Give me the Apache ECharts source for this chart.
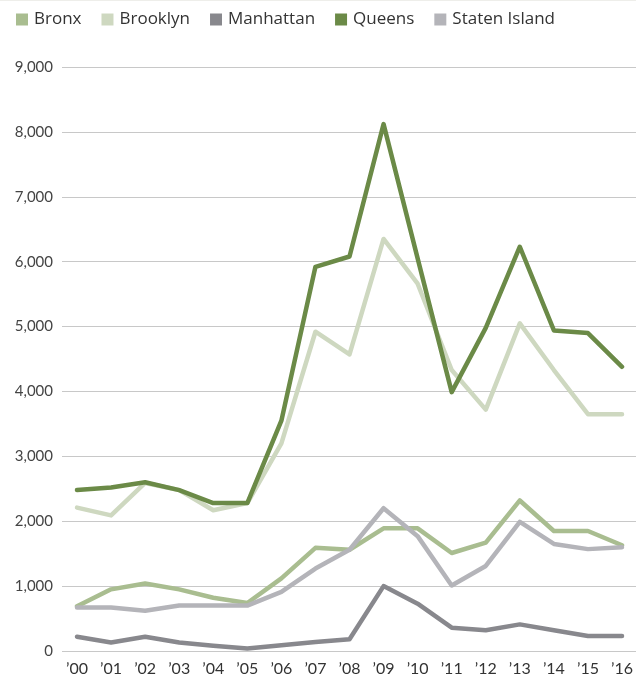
<!DOCTYPE html>
<html>
<head>
<meta charset="utf-8">
<script src="https://cdn.jsdelivr.net/npm/echarts@6/dist/echarts.min.js"></script>
<style>
  html, body { margin: 0; padding: 0; background: #fff; }
  #chart { width: 636px; height: 678px; }
</style>
</head>
<body>
<div id="chart"></div>
<script>
// Years shown along the bottom axis
const years = ["’00", "’01", "’02", "’03", "’04", "’05", "’06", "’07", "’08",
               "’09", "’10", "’11", "’12", "’13", "’14", "’15", "’16"];

// Values per borough, 2000–2016
const bronx        = [690, 950, 1040, 950, 820, 740, 1120, 1590, 1560, 1890, 1890, 1510, 1670, 2320, 1850, 1850, 1630];
const brooklyn     = [2210, 2090, 2590, 2480, 2170, 2280, 3200, 4920, 4570, 6350, 5660, 4330, 3720, 5050, 4330, 3650, 3650];
const manhattan    = [220, 130, 220, 130, 80, 40, 90, 140, 180, 1000, 730, 360, 320, 410, 320, 230, 230];
const queens       = [2480, 2520, 2600, 2480, 2280, 2280, 3550, 5920, 6080, 8120, 6050, 3990, 4980, 6230, 4940, 4900, 4380];
const statenIsland = [670, 670, 620, 700, 700, 700, 910, 1270, 1560, 2200, 1770, 1010, 1310, 1990, 1650, 1570, 1600];

const yTicks = [0, 1000, 2000, 3000, 4000, 5000, 6000, 7000, 8000, 9000];

const seriesDefs = [
  { name: "Bronx",         data: bronx,        color: "#a9bd90" },
  { name: "Brooklyn",      data: brooklyn,     color: "#ced8c0" },
  { name: "Manhattan",     data: manhattan,    color: "#88888d" },
  { name: "Queens",        data: queens,       color: "#6b8a47" },
  { name: "Staten Island", data: statenIsland, color: "#b4b4b9" }
];

const AXIS_FONT = "Lato";
const LEGEND_FONT = "Open Sans";
const chart = echarts.init(document.getElementById("chart"), null, { renderer: "canvas" });

const yMin = yTicks[0], yMax = yTicks[yTicks.length - 1];

chart.setOption({
  animation: false,
  textStyle: { fontFamily: AXIS_FONT },
  graphic: [{
    type: "rect", shape: { x: 0, y: 0, width: 636, height: 1 },
    style: { fill: "#eeeeea" }, silent: true
  }],
  legend: {
    left: 11, top: 6,
    itemWidth: 12, itemHeight: 12, itemGap: 20,
    icon: "rect",
    textStyle: { fontFamily: LEGEND_FONT, fontSize: 17, color: "#333", padding: [0, 0, 0, 1] },
    data: seriesDefs.map(s => s.name)
  },
  grid: [
    // background grid carrying the value gridlines across the full width
    { left: 62, right: 0, top: 67, bottom: 27 },
    // data grid
    { left: 77, right: 13, top: 67, bottom: 27 }
  ],
  xAxis: [
    { gridIndex: 0, type: "category", data: years, show: false },
    {
      gridIndex: 1, type: "category", data: years, boundaryGap: false,
      axisLine: { show: false }, axisTick: { show: false },
      axisLabel: { color: "#333", fontSize: 16, fontFamily: AXIS_FONT, margin: 10, interval: 0 }
    }
  ],
  yAxis: [
    {
      gridIndex: 0, type: "value", min: yMin, max: yMax, interval: 1000,
      axisLine: { show: false }, axisTick: { show: false },
      axisLabel: {
        color: "#444", fontSize: 15, fontFamily: AXIS_FONT, margin: 9,
        formatter: v => v.toLocaleString("en-US")
      },
      splitLine: { lineStyle: { color: "#c8c8c8", width: 1 } }
    },
    {
      gridIndex: 1, type: "value", min: yMin, max: yMax, interval: 1000,
      show: false, splitLine: { show: false }
    }
  ],
  series: seriesDefs.map(s => ({
    name: s.name, type: "line", xAxisIndex: 1, yAxisIndex: 1,
    data: s.data, symbol: "none", smooth: false,
    color: s.color,
    lineStyle: { color: s.color, width: 4.5, cap: "round", join: "round" },
    itemStyle: { color: s.color },
    emphasis: { disabled: true }
  }))
});
</script>
</body>
</html>
